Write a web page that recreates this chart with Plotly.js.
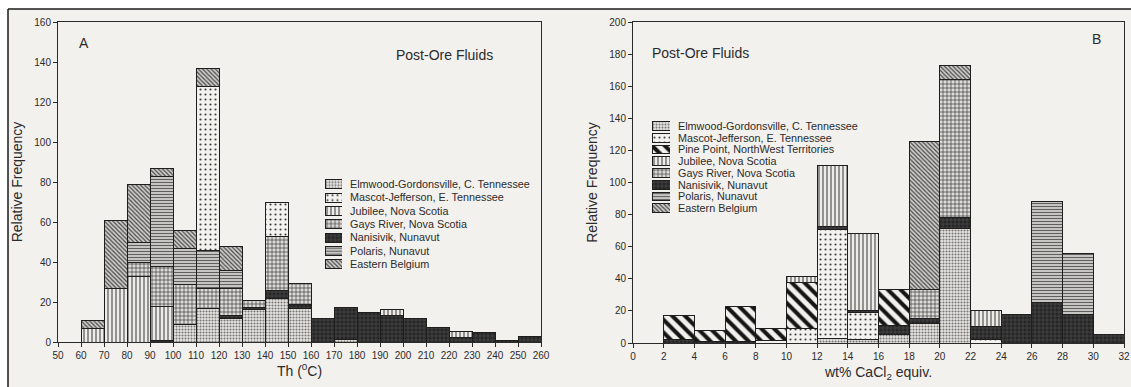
<!DOCTYPE html>
<html>
<head>
<meta charset="utf-8">
<script src="https://cdn.plot.ly/plotly-3.0.1.min.js"></script>
<style>html,body{margin:0;padding:0;background:#fff;}#chart{width:1131px;height:387px;}</style>
</head>
<body>
<div id="chart"></div>
<script>
// ---------- DATA ----------
// Panel A: homogenization temperature bins (centres, 10 °C wide)
const thBins = [65,75,85,95,105,115,125,135,145,155,165,175,185,195,205,215,225,235,245,255];
const thTicks = [50,60,70,80,90,100,110,120,130,140,150,160,170,180,190,200,210,220,230,240,250,260];
const thElmwood   = [0,0,0,0,9,17,12,16.5,22,17,0,1.5,0,0,0,0,0,0,0,0];
const thNanisivik = [0,0,0,1,0,0,1.5,1,4,2,12,16,15,13.5,12,7.5,2.5,5,1,3];
const thJubilee   = [7,27,33,17,0,0,0,0,0,0,0,0,0,3,0,0,3,0,0,0];
const thGaysRiver = [0,0,7,20,20,10,13.5,3.5,27,10.5,0,0,0,0,0,0,0,0,0,0];
const thPolaris   = [0,0,10,45,18,19,9,0,0,0,0,0,0,0,0,0,0,0,0,0];
const thMascot    = [0,0,0,0,0,82,0,0,17,0,0,0,0,0,0,0,0,0,0,0];
const thBelgium   = [4,34,29,4,9,9,12,0,0,0,0,0,0,0,0,0,0,0,0,0];

// Panel B: salinity bins (centres, 2 wt% wide)
const salBins = [3,5,7,9,11,13,15,17,19,21,23,25,27,29,31];
const salTicks = [0,2,4,6,8,10,12,14,16,18,20,22,24,26,28,30,32];
const salElmwood   = [0,0,0,0,0,3,2,5,12,71.5,0,0,0,0,0];
const salMascot    = [0,0,0,1.5,9,68,17,0,0,0,2,0,0,0,0];
const salNanisivik = [2,1,1,0,0,1.5,1.5,6,3,7,8.5,18,25,18,5];
const salPinePoint = [15,7,21.5,7.5,29,0,0,22.5,0,0,0,0,0,0,0];
const salJubilee   = [0,0,0,0,3.5,38,47.5,0,0,0,9.5,0,0,0,0];
const salGaysRiver = [0,0,0,0,0,0,0,0,18.5,85.5,0,0,0,0,0];
const salPolaris   = [0,0,0,0,0,0,0,0,0,0,0,0,63,38,0];
const salBelgium   = [0,0,0,0,0,0,0,0,92,9,0,0,0,0,0];

const nameElmwood = "Elmwood-Gordonsville, C. Tennessee";
const nameMascot = "Mascot-Jefferson, E. Tennessee";
const namePine = "Pine Point, NorthWest Territories";
const nameJubilee = "Jubilee, Nova Scotia";
const nameGays = "Gays River, Nova Scotia";
const nameNanisivik = "Nanisivik, Nunavut";
const namePolaris = "Polaris, Nunavut";
const nameBelgium = "Eastern Belgium";

const legendOrderA = [nameElmwood, nameMascot, nameJubilee, nameGays, nameNanisivik, namePolaris, nameBelgium];
const legendOrderB = [nameElmwood, nameMascot, namePine, nameJubilee, nameGays, nameNanisivik, namePolaris, nameBelgium];

// ---------- STYLES ----------
const styles = {};
styles[nameElmwood]   = {shape: ".", fg: "#777573", bg: "#e8e6e3", size: 3, sol: 0.4};
styles[nameMascot]    = {shape: ".", fg: "#3c3c3c", bg: "#f4f2ef", size: 5, sol: 0.14};
styles[namePine]      = {shape: "\\", fg: "#151515", bg: "#f2f0ed", size: 9, sol: 0.45};
styles[nameJubilee]   = {shape: "|", fg: "#555", bg: "#eeece9", size: 4, sol: 0.3};
styles[nameGays]      = {shape: "+", fg: "#333", bg: "#dddbd8", size: 4, sol: 0.3};
styles[nameNanisivik] = {shape: "+", fg: "#555", bg: "#262626", size: 4, sol: 0.25};
styles[namePolaris]   = {shape: "-", fg: "#5f5f5f", bg: "#d2d0cd", size: 3, sol: 0.4};
styles[nameBelgium]   = {shape: "\\", fg: "#4a4a4a", bg: "#cfcdca", size: 3, sol: 0.4};

function marker(name){
  const s = styles[name];
  return {color: s.bg, line: {color: "#1e1e1e", width: 1},
    pattern: {shape: s.shape, fgcolor: s.fg, bgcolor: s.bg, size: s.size, solidity: s.sol, fillmode: "replace"}};
}

const W = 1131, H = 387;
const px = x => x / W;
const py = y => 1 - y / H;

const traces = [];
function addStack(x, y, name, xa, ya){
  traces.push({type: "bar", x: x, y: y, name: name, xaxis: xa, yaxis: ya,
    marker: marker(name), showlegend: false, hoverinfo: "skip"});
}
// Panel A stacking (bottom -> top)
addStack(thBins, thElmwood, nameElmwood, "x", "y");
addStack(thBins, thNanisivik, nameNanisivik, "x", "y");
addStack(thBins, thJubilee, nameJubilee, "x", "y");
addStack(thBins, thGaysRiver, nameGays, "x", "y");
addStack(thBins, thPolaris, namePolaris, "x", "y");
addStack(thBins, thMascot, nameMascot, "x", "y");
addStack(thBins, thBelgium, nameBelgium, "x", "y");
// Panel B stacking
addStack(salBins, salElmwood, nameElmwood, "x2", "y2");
addStack(salBins, salMascot, nameMascot, "x2", "y2");
addStack(salBins, salNanisivik, nameNanisivik, "x2", "y2");
addStack(salBins, salPinePoint, namePine, "x2", "y2");
addStack(salBins, salJubilee, nameJubilee, "x2", "y2");
addStack(salBins, salGaysRiver, nameGays, "x2", "y2");
addStack(salBins, salPolaris, namePolaris, "x2", "y2");
addStack(salBins, salBelgium, nameBelgium, "x2", "y2");

// Legend swatches (small category subplots)
legendOrderA.forEach(n => traces.push({type: "bar", orientation: "h", x: [1], y: [n], base: 0, width: 0.68,
  xaxis: "x3", yaxis: "y3", marker: marker(n), showlegend: false, hoverinfo: "skip"}));
legendOrderB.forEach(n => traces.push({type: "bar", orientation: "h", x: [1], y: [n], base: 0, width: 0.75,
  xaxis: "x4", yaxis: "y4", marker: marker(n), showlegend: false, hoverinfo: "skip"}));

const FONT = "Liberation Sans, Arial, sans-serif";
const TXT = "#2b2b2b";
const axisCommon = {showgrid: false, zeroline: false, showline: true, linecolor: "#2a2a2a", linewidth: 1,
  mirror: true, ticks: "outside", ticklen: 4, tickwidth: 1, tickcolor: "#2a2a2a",
  tickfont: {family: FONT, size: 10, color: TXT}};

const legendAxisY = (domain, names, anchor) => ({domain: domain, anchor: anchor, type: "category",
  categoryorder: "array", categoryarray: names, range: [names.length - 0.5, -0.5], side: "right",
  tickmode: "array", tickvals: names, ticktext: names,
  showgrid: false, zeroline: false, showline: false, ticks: "", ticklabelstandoff: 7,
  tickfont: {family: FONT, size: 10.8, color: TXT}});
const legendAxisX = (domain, anchor) => ({domain: domain, anchor: anchor, range: [0, 1], visible: false, fixedrange: true});

const layout = {
  width: W, height: H,
  margin: {l: 0, r: 0, t: 0, b: 0},
  paper_bgcolor: "#ffffff", plot_bgcolor: "rgba(0,0,0,0)",
  barmode: "stack", bargap: 0,
  showlegend: false,
  font: {family: FONT, color: TXT},
  xaxis: Object.assign({}, axisCommon, {domain: [px(58), px(541)], anchor: "y", range: [50, 260],
    tickmode: "array", tickvals: thTicks,
    title: {text: "Th (<sup>0</sup>C)", font: {family: FONT, size: 14, color: TXT}, standoff: 6}}),
  yaxis: Object.assign({}, axisCommon, {domain: [py(342), py(22)], anchor: "x", range: [0, 160], dtick: 20,
    title: {text: "Relative Frequency", font: {family: FONT, size: 14, color: TXT}, standoff: 8}}),
  xaxis2: Object.assign({}, axisCommon, {domain: [px(633), px(1124)], anchor: "y2", range: [0, 32],
    tickmode: "array", tickvals: salTicks,
    title: {text: "wt% CaCl<sub>2</sub> equiv.", font: {family: FONT, size: 14, color: TXT}, standoff: 6}}),
  yaxis2: Object.assign({}, axisCommon, {domain: [py(343), py(22)], anchor: "x2", range: [0, 200], dtick: 20,
    title: {text: "Relative Frequency", font: {family: FONT, size: 14, color: TXT}, standoff: 8}}),
  xaxis3: legendAxisX([px(325), px(342)], "y3"),
  yaxis3: legendAxisY([py(271), py(177.7)], legendOrderA, "x3"),
  xaxis4: legendAxisX([px(652), px(670)], "y4"),
  yaxis4: legendAxisY([py(214.2), py(120.1)], legendOrderB, "x4"),
  shapes: [
    {type: "rect", xref: "paper", yref: "paper", x0: px(8), x1: 1.01, y0: -0.01, y1: py(9),
      fillcolor: "#f3f1ee", line: {width: 0}, layer: "below"},
    {type: "line", xref: "paper", yref: "paper", x0: px(8), x1: 1, y0: py(9), y1: py(9), line: {color: "#1a1a1a", width: 1.5}},
    {type: "line", xref: "paper", yref: "paper", x0: px(8), x1: px(8), y0: 0, y1: py(9), line: {color: "#1a1a1a", width: 1.5}}
  ],
  annotations: [
    {xref: "paper", yref: "paper", x: px(77), y: py(33), text: "A", showarrow: false, font: {family: FONT, size: 14, color: TXT}},
    {xref: "paper", yref: "paper", x: px(444), y: py(45), text: "Post-Ore Fluids", showarrow: false, font: {family: FONT, size: 14, color: TXT}},
    {xref: "paper", yref: "paper", x: px(700), y: py(43), text: "Post-Ore Fluids", showarrow: false, font: {family: FONT, size: 14, color: TXT}},
    {xref: "paper", yref: "paper", x: px(1103), y: py(29), text: "B", showarrow: false, font: {family: FONT, size: 14, color: TXT}}
  ]
};

Plotly.newPlot("chart", traces, layout, {staticPlot: true, displayModeBar: false});
</script>
</body>
</html>
